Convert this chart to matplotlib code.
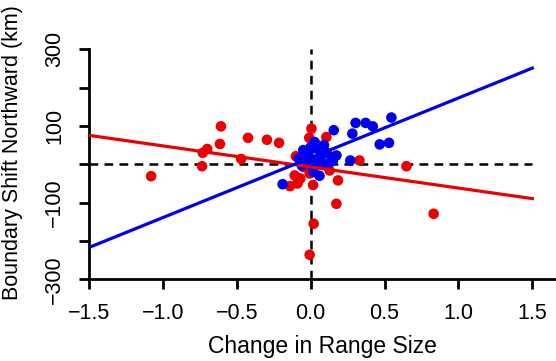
import numpy as np
import matplotlib
matplotlib.use('Agg')
import matplotlib.pyplot as plt

plt.rcParams['font.family'] = ['Liberation Sans', 'DejaVu Sans']

# red species: (change in range size, boundary shift)
red_x = [-1.08, -0.735, -0.73, -0.70, -0.614, -0.607, -0.47, -0.424, -0.296, -0.214,
         -0.10, 0.005, -0.01, 0.106, 0.33, 0.648, 0.185, 0.174, 0.02, -0.007,
         0.832, 0.016, -0.14, -0.09, -0.05, -0.108, -0.086, -0.007, 0.128, -0.07]
red_y = [-31, -5, 30, 40, 53, 99, 14, 69, 64, 56,
         21, 93, 69, 71, 10, -5, -42, -103, -155, -236,
         -129, -54, -57, -50, -7, -29, -46, -24, -16, -37]

# blue species
blue_x = [0.546, 0.304, 0.372, 0.42, 0.282, 0.156, 0.467, 0.53, 0.268, 0.174,
          0.15, 0.027, -0.05, 0.038, 0.072, -0.018, -0.03, -0.06, 0.083, 0.016,
          -0.19, 0.0, 0.05, -0.08, 0.11, 0.02, 0.06, 0.0, 0.09, 0.13]
blue_y = [122, 108, 108, 99, 80, 89, 52, 56, 10, 23,
          10, 58, 37, 41, 23, 28, 10, -3, 2, -11,
          -52, 15, 5, 15, 30, -20, -30, 45, 50, 5]

# fitted lines (intercept, slope)
red_fit = (-7, -55)
blue_fit = (17, 156)

x_ticks = [-1.5, -1.0, -0.5, 0.0, 0.5, 1.0, 1.5]
x_labels = ['\u22121.5', '\u22121.0', '\u22120.5', '0.0', '0.5', '1.0', '1.5']
y_ticks = [-300, -200, -100, 0, 100, 200, 300]
y_labels = ['\u2212300', '', '\u2212100', '', '100', '', '300']

fig = plt.figure(figsize=(5.56, 3.61), dpi=100)
ax = fig.add_axes([89 / 556, 1 - 279.3 / 361, 1 - 89 / 556, (279.3 - 49.3) / 361])

ax.scatter(red_x, red_y, s=58, color='#ee0000', edgecolors='none', zorder=3, clip_on=False)
ax.scatter(blue_x, blue_y, s=58, color='#0000ee', edgecolors='none', zorder=4, clip_on=False)

xs = np.array([-1.5, 1.5])
ax.plot(xs, red_fit[0] + red_fit[1] * xs, color='#ee0000', lw=2.3, zorder=5)
ax.plot(xs, blue_fit[0] + blue_fit[1] * xs, color='#0000ee', lw=2.3, zorder=5)

# reference lines at zero
ax.plot([-1.5, 1.5], [0, 0], color='black', lw=1.8, ls=(0, (3.5, 2.5)), zorder=2)
ax.plot([0, 0], [-300, 300], color='black', lw=1.8, ls=(0, (3.5, 2.5)), zorder=2)

ax.set_xlim(-1.5, 1.66)
ax.set_ylim(-300, 300)
ax.spines['top'].set_visible(False)
ax.spines['right'].set_visible(False)
ax.spines['left'].set_linewidth(2)
ax.spines['bottom'].set_linewidth(2)

ax.set_xticks(x_ticks)
ax.set_xticklabels(x_labels)
ax.set_yticks(y_ticks)
ax.set_yticklabels(y_labels, rotation=90, va='center')
ax.tick_params(direction='out', length=7, width=2, labelsize=15.5)
ax.tick_params(axis='x', pad=10)
ax.tick_params(axis='y', pad=10)

ax.set_xlabel('Change in Range Size', fontsize=16.5, labelpad=8)
ax.set_ylabel('Boundary Shift Northward (km)', fontsize=15.5)
ax.yaxis.set_label_coords(-0.142, 0.553)

fig.savefig('out.png', dpi=100)
